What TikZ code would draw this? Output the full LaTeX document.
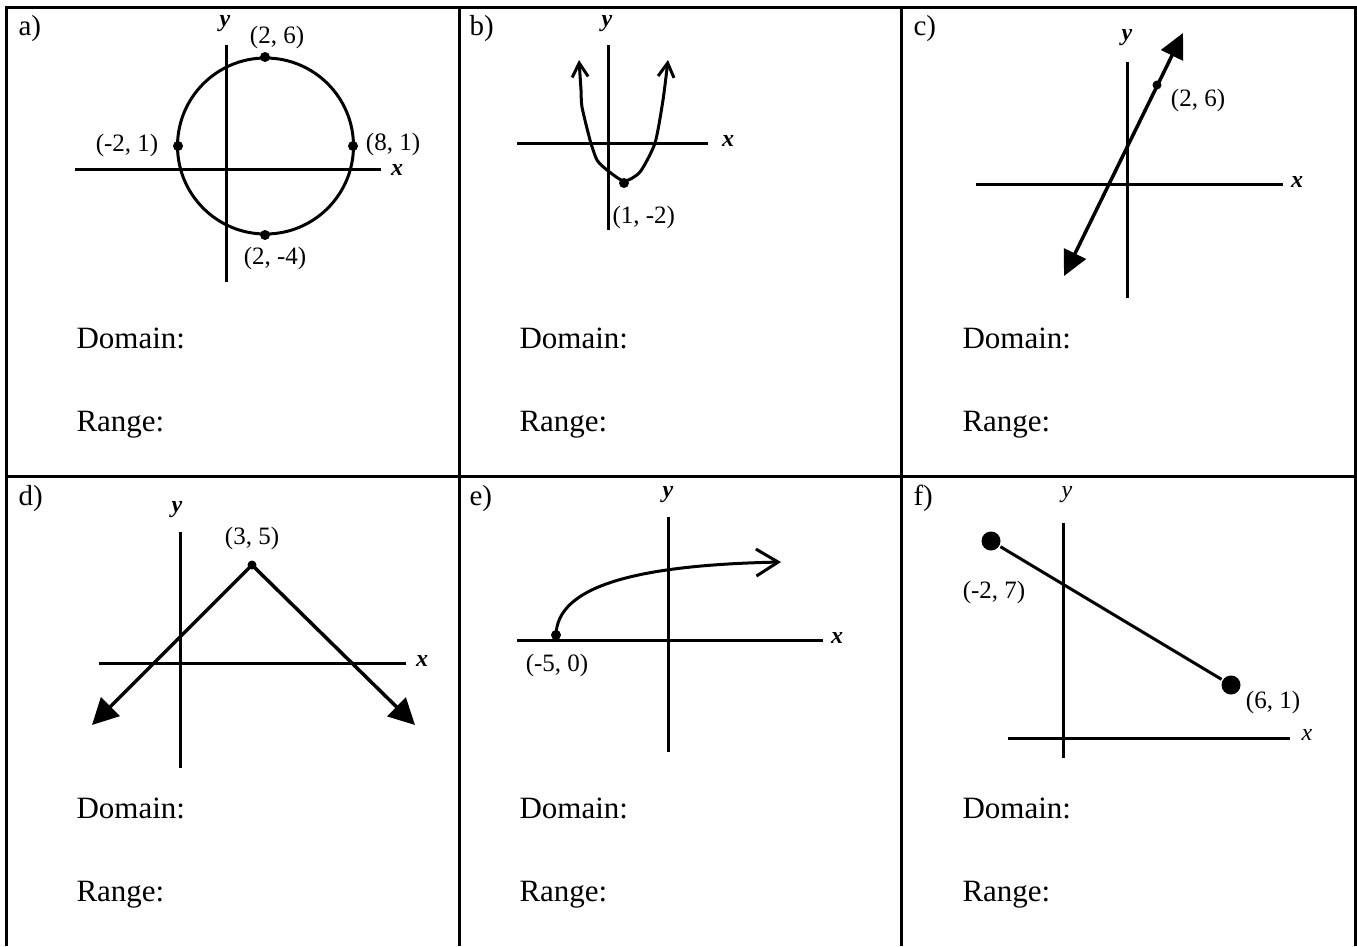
\documentclass[tikz,border=0pt]{standalone}
\usepackage{fontspec}
\setmainfont{Liberation Serif}
\usepackage{tikz}
\usetikzlibrary{arrows.meta}

\begin{document}
\begin{tikzpicture}[x=1pt, y=-1pt, line width=3pt,
  tag/.style={inner sep=0pt, anchor=base west, font=\fontsize{29}{34}\selectfont},
  ask/.style={inner sep=0pt, anchor=base west, font=\fontsize{31}{36}\selectfont},
  pt/.style={inner sep=0pt, font=\fontsize{25}{30}\selectfont},
  ax/.style={inner sep=0pt, font=\fontsize{24}{28}\selectfont\bfseries\itshape},
  axr/.style={inner sep=0pt, font=\fontsize{24}{28}\selectfont\itshape},
  bigtri/.style={{Triangle[length=25pt, width=24pt]}-{Triangle[length=25pt, width=24pt]}},
  vee/.style={{Straight Barb[length=14pt, width=16pt]}-{Straight Barb[length=14pt, width=16pt]}}]
\useasboundingbox (0,0) rectangle (1357,946);

% table frame
\draw (6,946) -- (6,7) -- (1355,7) -- (1355,946);
\draw (459,7) -- (459,946);
\draw (901,7) -- (901,946);
\draw (6,476) -- (1355,476);

% panel tags and questions
\node[tag] (ta) at (17,35) {a)};
\node[tag] (tb) at (468,35) {b)};
\node[tag] (tc) at (912,35) {c)};
\node[tag] (td) at (17,505) {d)};
\node[tag] (te) at (468,505) {e)};
\node[tag] (tf) at (912,505) {f)};
\foreach \px/\py/\n in {75/0/a, 518/0/b, 961/0/c, 75/470/d, 518/470/e, 961/470/f} {
  \node[ask] (dom-\n) at (\px,348+\py) {Domain:};
  \node[ask] (ran-\n) at (\px,431+\py) {Range:};
}

% a) circle
\draw (75,169) -- (381,169);
\draw (226,45) -- (226,282);
\node[ax] (ax-x) at (397,170) {x};
\node[ax] (ax-y) at (225,24) {y};
\draw (265.5,146) circle (88);
\fill (178,146) circle (5) (353,146) circle (5) (265,57) circle (5) (265,235) circle (5);
\node[pt] (a-top) at (277,37) {(2, 6)};
\node[pt] (a-left) at (127,145) {(-2, 1)};
\node[pt] (a-right) at (393,144) {(8, 1)};
\node[pt] (a-bot) at (275,258) {(2, -4)};

% b) parabola
\draw (517,143) -- (708,143);
\draw (608,45) -- (608,230);
\node[ax] (bx-x) at (728,141) {x};
\node[ax] (bx-y) at (607,24) {y};
\draw[vee, line join=round] plot[smooth, tension=0.4] coordinates {(579,60) (581,90) (582,107) (590,140) (597,160) (607,170) (624,181) (640,172) (655,143) (663,100) (668,60)};
\fill (624,183) circle (5);
\node[pt, anchor=west] (b-min) at (611,217) {(1, -2)};

% c) line
\draw (976,184) -- (1283,184);
\draw (1127,62) -- (1127,298);
\node[ax] (cx-x) at (1297,182) {x};
\node[ax] (cx-y) at (1127,38) {y};
\coordinate (c-lo) at (1064,276);
\coordinate (c-hi) at (1183,33);
\draw[bigtri, line width=3.5pt] (c-lo) -- (c-hi);
\fill (1157,85) circle (4.5);
\node[pt] (c-p) at (1198,100) {(2, 6)};

% d) absolute value
\draw (99,663) -- (406,663);
\draw (180,532) -- (180,768);
\node[ax] (dx-x) at (422,661) {x};
\node[ax] (dx-y) at (177,510) {y};
\coordinate (d-top) at (252,565);
\coordinate (d-l) at (92,725);
\coordinate (d-r) at (415,725);
\draw[line width=3.5pt, -{Triangle[length=26pt, width=26pt]}] (d-top) -- (d-l);
\draw[line width=3.5pt, -{Triangle[length=26pt, width=26pt]}] (d-top) -- (d-r);
\fill (252,565) circle (4.5);
\node[pt] (d-p) at (252,538) {(3, 5)};

% e) square root
\draw (517,640) -- (823,640);
\draw (668,517) -- (668,752);
\node[ax] (ex-x) at (837,638) {x};
\node[ax] (ex-y) at (668,495) {y};
\coordinate (e-start) at (556,636);
\coordinate (e-end) at (781,562);
\draw[-{Straight Barb[length=22pt, width=27pt]}] (e-start) .. controls (556,585) and (640,565) .. (e-end);
\fill (556,635) circle (5);
\node[pt] (e-p) at (557,665) {(-5, 0)};

% f) segment
\draw (1008,738) -- (1290,738);
\draw (1063,523) -- (1063,758);
\node[axr] (fx-x) at (1307,735) {x};
\node[axr] (fx-y) at (1067,495) {y};
\node[circle, fill, inner sep=0pt, minimum size=19pt] (f-a) at (991,541) {};
\node[circle, fill, inner sep=0pt, minimum size=19pt] (f-b) at (1231,685) {};
\draw (f-a) -- (f-b);
\node[pt] (f-la) at (994,592) {(-2, 7)};
\node[pt] (f-lb) at (1273,702) {(6, 1)};
\end{tikzpicture}
\end{document}
